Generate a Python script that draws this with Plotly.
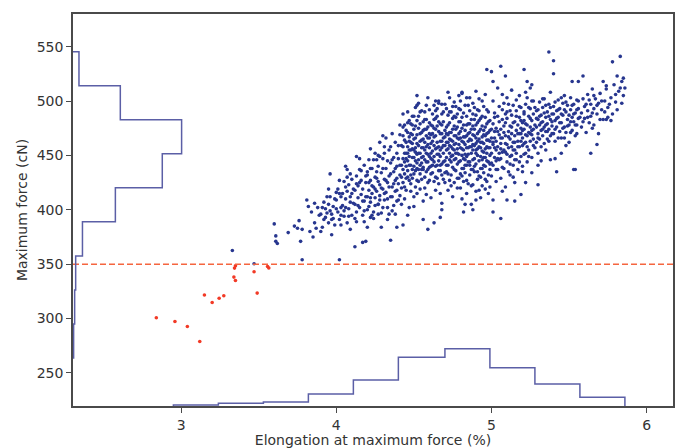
import plotly.graph_objects as go

# ---------------- data ----------------
x_range = [2.303, 6.17]
y_range = [219.6, 580.0]
threshold = 350

x_ticks = [3, 4, 5, 6]
y_ticks = [250, 300, 350, 400, 450, 500, 550]

# histogram of elongation (bottom)
x_edges = [2.95, 3.24, 3.53, 3.82, 4.11, 4.40, 4.70, 4.99, 5.28, 5.57, 5.86]
x_counts = [7, 18, 27, 82, 177, 331, 390, 260, 150, 59]

# histogram of maximum force (left)
y_edges = [263.7, 295.0, 326.3, 357.6, 388.9, 420.2, 451.5, 482.8, 514.1, 545.4]
y_counts = [3, 8, 13, 46, 206, 434, 528, 230, 29]

# points below the threshold (red)
red_x = [2.84, 2.96, 3.04, 3.12, 3.15, 3.20, 3.245, 3.275, 3.344, 3.35, 3.34, 3.35, 3.47, 3.49, 3.557, 3.565]
red_y = [300.7, 297.3, 292.7, 278.9, 321.6, 314.8, 318.6, 320.9, 346.4, 348.5, 338.1, 335.0, 343.0, 323.4, 347.9, 346.5]

# points above the threshold (blue)
blue_pts = [
    # sparse left / lower tail
    (3.33, 362.6), (3.47, 350.4), (3.60, 387), (3.61, 376), (3.61, 371), (3.62, 369), (3.69, 379),
    (3.73, 385), (3.75, 383), (3.76, 390), (3.78, 382), (3.77, 371), (3.78, 354), (3.81, 409),
    (3.82, 403), (3.83, 380), (3.85, 375), (3.86, 406), (3.90, 380), (3.92, 407), (3.94, 397),
    (3.96, 433), (3.96, 412), (3.97, 377), (3.97, 391), (4.00, 416), (4.02, 415), (4.03, 402),
    (4.05, 394), (4.06, 421), (4.09, 433), (4.09, 382), (4.11, 406), (4.12, 366), (4.13, 389),
    (4.15, 425), (4.20, 435), (4.20, 384), (4.19, 371), (4.22, 411), (4.22, 393), (4.25, 430),
    (4.27, 405), (4.26, 446), (4.35, 372), (4.39, 384), (4.43, 386), (4.46, 395), (4.50, 403),
    (4.56, 391), (4.59, 382), (4.63, 388), (4.67, 393), (4.68, 400), (4.68, 406), (4.02, 354),
    (4.17, 370),
    # lower-right boundary
    (5.64, 452), (5.54, 437), (5.30, 423), (5.22, 425), (5.19, 414), (5.15, 408), (5.10, 409),
    (5.06, 392), (5.01, 398), (5.01, 409), (4.88, 400), (4.82, 398), (4.83, 405), (4.90, 409),
    (5.07, 417), (5.14, 430), (5.20, 435), (5.26, 434), (5.30, 441), (5.41, 447), (5.38, 446),
    # upper boundary
    (5.37, 545), (5.40, 537), (5.40, 525), (5.21, 529), (5.06, 532), (5.00, 527), (5.09, 523),
    (5.01, 518), (5.23, 518), (5.26, 515), (5.59, 523), (5.52, 518), (5.56, 518), (5.78, 536),
    (5.83, 541), (5.81, 523), (5.84, 518), (5.72, 518), (5.74, 514), (5.85, 505), (5.80, 499),
    (5.81, 492), (5.74, 483), (5.65, 475), (4.81, 508), (4.97, 529), (4.72, 508), (4.66, 498),
    (4.70, 497), (4.52, 496), (4.41, 478), (4.30, 468), (4.13, 449), (4.07, 437), (5.75, 485),
    (5.68, 460), (5.53, 437), (5.42, 435),
    # 3.82 - 4.11
    (3.84, 398), (3.86, 388), (3.88, 402), (3.89, 395), (3.91, 384), (3.92, 391), (3.93, 401),
    (3.95, 388), (3.95, 405), (3.97, 396), (3.98, 403), (3.99, 386), (4.00, 409), (4.01, 398),
    (4.01, 419), (4.02, 391), (4.03, 412), (4.04, 404), (4.05, 426), (4.05, 399), (4.06, 410),
    (4.07, 388), (4.07, 417), (4.08, 401), (4.08, 423), (4.09, 407), (4.10, 395), (4.10, 415),
    (4.10, 428), (3.90, 396), (3.94, 412), (3.96, 399), (4.03, 395), (4.06, 440), (3.87, 383),
    (4.09, 412),
    # 4.11 - 4.41
    (4.12, 405), (4.12, 418), (4.13, 398), (4.13, 431), (4.14, 411), (4.14, 422), (4.15, 402),
    (4.15, 437), (4.16, 414), (4.16, 427), (4.17, 395), (4.17, 419), (4.18, 408), (4.18, 441),
    (4.19, 425), (4.19, 412), (4.20, 400), (4.20, 432), (4.21, 418), (4.21, 446), (4.22, 407),
    (4.22, 427), (4.23, 415), (4.23, 438), (4.24, 398), (4.24, 421), (4.25, 411), (4.25, 452),
    (4.26, 429), (4.26, 417), (4.27, 405), (4.27, 440), (4.28, 423), (4.28, 413), (4.29, 434),
    (4.29, 397), (4.30, 419), (4.30, 447), (4.31, 409), (4.31, 428), (4.32, 438), (4.32, 416),
    (4.33, 402), (4.33, 425), (4.34, 455), (4.34, 431), (4.35, 412), (4.35, 443), (4.36, 421),
    (4.36, 399), (4.37, 435), (4.37, 448), (4.38, 417), (4.38, 427), (4.39, 408), (4.39, 440),
    (4.40, 459), (4.40, 424), (4.41, 432), (4.41, 413), (4.18, 389), (4.24, 392), (4.29, 384),
    (4.33, 391), (4.38, 396), (4.15, 447), (4.22, 456), (4.28, 462), (4.32, 466), (4.36, 470),
    (4.39, 452), (4.27, 450), (4.31, 458),
    # 4.41 - 4.70
    (4.42, 441), (4.42, 459), (4.43, 425), (4.43, 468), (4.43, 447), (4.44, 433), (4.44, 452),
    (4.44, 478), (4.45, 418), (4.45, 462), (4.45, 440), (4.42, 405), (4.44, 410), (4.43, 488),
    (4.45, 452), (4.46, 436), (4.46, 458), (4.46, 471), (4.47, 427), (4.47, 449), (4.47, 463),
    (4.47, 482), (4.48, 441), (4.48, 455), (4.48, 417), (4.46, 445), (4.48, 470), (4.47, 402),
    (4.46, 490), (4.48, 432), (4.49, 448), (4.49, 461), (4.49, 429), (4.50, 474), (4.50, 440),
    (4.50, 455), (4.50, 486), (4.51, 421), (4.51, 466), (4.51, 445), (4.49, 478), (4.50, 412),
    (4.51, 457), (4.49, 437), (4.51, 494), (4.52, 451), (4.52, 438), (4.52, 469), (4.52, 482),
    (4.53, 426), (4.53, 459), (4.53, 446), (4.53, 475), (4.54, 433), (4.54, 463), (4.54, 452),
    (4.54, 490), (4.52, 415), (4.53, 498), (4.54, 441), (4.55, 457), (4.55, 443), (4.55, 471),
    (4.55, 428), (4.56, 465), (4.56, 449), (4.56, 481), (4.56, 437), (4.57, 455), (4.57, 420),
    (4.57, 474), (4.55, 491), (4.56, 408), (4.57, 462), (4.57, 446), (4.58, 452), (4.58, 468),
    (4.58, 435), (4.58, 483), (4.59, 444), (4.59, 460), (4.59, 476), (4.59, 425), (4.60, 457),
    (4.60, 439), (4.60, 492), (4.58, 414), (4.59, 503), (4.60, 466), (4.60, 449), (4.61, 461),
    (4.61, 447), (4.61, 478), (4.61, 433), (4.62, 454), (4.62, 470), (4.62, 488), (4.62, 441),
    (4.63, 459), (4.63, 426), (4.63, 475), (4.61, 411), (4.62, 463), (4.63, 449), (4.63, 496),
    (4.64, 456), (4.64, 468), (4.64, 440), (4.64, 484), (4.65, 451), (4.65, 462), (4.65, 429),
    (4.65, 477), (4.66, 445), (4.66, 472), (4.66, 458), (4.64, 418), (4.65, 493), (4.66, 436),
    (4.66, 500), (4.67, 463), (4.67, 449), (4.67, 479), (4.67, 436), (4.68, 457), (4.68, 470),
    (4.68, 442), (4.68, 488), (4.69, 452), (4.69, 466), (4.69, 428), (4.69, 481), (4.70, 459),
    (4.70, 445), (4.70, 473), (4.67, 415), (4.68, 497), (4.70, 434),
    # 4.70 - 4.99
    (4.71, 462), (4.71, 448), (4.71, 476), (4.71, 435), (4.72, 456), (4.72, 469), (4.72, 441),
    (4.72, 487), (4.73, 452), (4.73, 465), (4.73, 427), (4.73, 480), (4.71, 493), (4.72, 418),
    (4.73, 459), (4.73, 503), (4.74, 458), (4.74, 444), (4.74, 471), (4.74, 432), (4.75, 463),
    (4.75, 450), (4.75, 484), (4.75, 439), (4.76, 455), (4.76, 468), (4.76, 425), (4.76, 477),
    (4.74, 490), (4.75, 412), (4.76, 446), (4.76, 499), (4.77, 461), (4.77, 447), (4.77, 474),
    (4.77, 436), (4.78, 456), (4.78, 466), (4.78, 442), (4.78, 488), (4.79, 451), (4.79, 470),
    (4.79, 429), (4.79, 481), (4.77, 495), (4.78, 420), (4.79, 460), (4.79, 505), (4.80, 457),
    (4.80, 445), (4.80, 472), (4.80, 433), (4.81, 463), (4.81, 450), (4.81, 485), (4.81, 438),
    (4.82, 455), (4.82, 467), (4.82, 426), (4.82, 478), (4.80, 492), (4.81, 410), (4.82, 447),
    (4.81, 507), (4.83, 460), (4.83, 446), (4.83, 473), (4.83, 434), (4.84, 457), (4.84, 468),
    (4.84, 441), (4.84, 486), (4.85, 451), (4.85, 463), (4.85, 424), (4.85, 479), (4.83, 496),
    (4.84, 415), (4.85, 444), (4.84, 503), (4.86, 458), (4.86, 444), (4.86, 471), (4.86, 432),
    (4.87, 464), (4.87, 452), (4.87, 483), (4.87, 437), (4.88, 455), (4.88, 469), (4.88, 423),
    (4.88, 477), (4.86, 491), (4.87, 405), (4.88, 446), (4.88, 498), (4.89, 459), (4.89, 447),
    (4.89, 474), (4.89, 435), (4.90, 455), (4.90, 466), (4.90, 442), (4.90, 487), (4.91, 450),
    (4.91, 463), (4.91, 428), (4.91, 480), (4.89, 494), (4.90, 417), (4.91, 456), (4.90, 509),
    (4.92, 458), (4.92, 445), (4.92, 472), (4.92, 431), (4.93, 462), (4.93, 449), (4.93, 484),
    (4.93, 438), (4.94, 454), (4.94, 467), (4.94, 422), (4.94, 477), (4.92, 491), (4.93, 411),
    (4.94, 446), (4.94, 500), (4.95, 461), (4.95, 448), (4.95, 473), (4.95, 434), (4.96, 456),
    (4.96, 468), (4.96, 440), (4.96, 485), (4.97, 452), (4.97, 464), (4.97, 426), (4.97, 479),
    (4.95, 495), (4.96, 419), (4.97, 458), (4.96, 506), (4.98, 457), (4.98, 444), (4.98, 471),
    (4.98, 432), (4.99, 463), (4.99, 450), (4.99, 482), (4.99, 437), (4.98, 490), (4.99, 421),
    # 4.99 - 5.28
    (5.00, 466), (5.00, 452), (5.01, 479), (5.01, 441), (5.01, 460), (5.02, 472), (5.02, 448),
    (5.02, 489), (5.00, 431), (5.01, 500), (5.02, 457), (5.03, 463), (5.03, 475), (5.03, 445),
    (5.04, 458), (5.04, 486), (5.04, 437), (5.05, 469), (5.05, 452), (5.05, 495), (5.03, 426),
    (5.04, 512), (5.06, 461), (5.06, 474), (5.06, 447), (5.07, 466), (5.07, 483), (5.07, 439),
    (5.08, 455), (5.08, 471), (5.08, 498), (5.06, 429), (5.07, 506), (5.09, 468), (5.09, 453),
    (5.09, 480), (5.10, 460), (5.10, 444), (5.10, 490), (5.11, 472), (5.11, 457), (5.11, 435),
    (5.10, 503), (5.09, 421), (5.12, 465), (5.12, 477), (5.12, 449), (5.13, 470), (5.13, 458),
    (5.13, 487), (5.14, 462), (5.14, 441), (5.14, 496), (5.12, 432), (5.13, 510), (5.15, 468),
    (5.15, 481), (5.15, 455), (5.16, 473), (5.16, 446), (5.16, 491), (5.17, 463), (5.17, 478),
    (5.17, 437), (5.16, 501), (5.15, 425), (5.18, 470), (5.18, 458), (5.18, 485), (5.19, 475),
    (5.19, 449), (5.19, 494), (5.20, 466), (5.20, 480), (5.20, 440), (5.18, 505), (5.19, 463),
    (5.21, 474), (5.21, 461), (5.21, 488), (5.22, 469), (5.22, 452), (5.22, 497), (5.23, 478),
    (5.23, 458), (5.23, 444), (5.22, 508), (5.21, 482), (5.24, 471), (5.24, 486), (5.24, 455),
    (5.25, 476), (5.25, 463), (5.25, 493), (5.26, 469), (5.26, 448), (5.26, 482), (5.27, 474),
    (5.27, 459), (5.27, 500), (5.25, 512),
    # 5.28 - 5.57
    (5.29, 476), (5.29, 462), (5.29, 491), (5.30, 470), (5.30, 483), (5.30, 452), (5.31, 478),
    (5.31, 499), (5.31, 465), (5.32, 487), (5.32, 473), (5.32, 458), (5.33, 481), (5.33, 494),
    (5.33, 468), (5.34, 476), (5.34, 502), (5.34, 461), (5.35, 485), (5.35, 472), (5.36, 490),
    (5.36, 465), (5.36, 479), (5.37, 497), (5.37, 474), (5.38, 483), (5.38, 468), (5.38, 508),
    (5.39, 488), (5.39, 477), (5.40, 495), (5.40, 470), (5.41, 482), (5.41, 463), (5.42, 491),
    (5.42, 476), (5.43, 501), (5.43, 485), (5.44, 472), (5.44, 493), (5.45, 480), (5.45, 466),
    (5.46, 498), (5.46, 487), (5.47, 476), (5.47, 505), (5.48, 490), (5.48, 471), (5.49, 483),
    (5.49, 496), (5.50, 478), (5.50, 462), (5.51, 492), (5.51, 503), (5.52, 485), (5.52, 473),
    (5.53, 497), (5.53, 481), (5.54, 489), (5.54, 468), (5.55, 501), (5.55, 478), (5.56, 493),
    (5.56, 484), (5.35, 455), (5.45, 452), (5.32, 445), (5.48, 459),
    # 5.57 - 5.86
    (5.58, 489), (5.58, 476), (5.59, 502), (5.60, 484), (5.60, 495), (5.61, 471), (5.62, 491),
    (5.62, 506), (5.63, 480), (5.64, 497), (5.64, 486), (5.65, 511), (5.66, 493), (5.66, 478),
    (5.67, 502), (5.68, 488), (5.69, 498), (5.69, 470), (5.70, 507), (5.71, 492), (5.72, 483),
    (5.73, 500), (5.74, 511), (5.75, 494), (5.77, 503), (5.78, 488), (5.79, 515), (5.82, 509),
    (5.84, 498), (5.86, 512),
]

# additional points filling the dense core of the cloud
blue_pts_core = [
    (3.91, 402), (3.93, 393), (3.95, 419), (3.98, 392), (3.99, 410), (4.00, 401), (4.02, 427),
    (4.03, 386), (4.04, 415), (4.06, 402), (4.07, 430), (4.08, 394), (4.11, 419), (4.12, 392),
    (4.13, 424), (4.14, 404), (4.16, 436), (4.17, 408), (4.18, 399), (4.19, 431),
    (4.20, 412), (4.21, 425), (4.21, 403), (4.22, 438), (4.23, 395), (4.23, 422), (4.24, 446),
    (4.25, 419), (4.25, 404), (4.26, 435), (4.27, 426), (4.27, 396), (4.28, 449), (4.28, 409),
    (4.29, 420), (4.30, 438), (4.30, 402), (4.31, 452), (4.31, 415), (4.32, 427), (4.33, 445),
    (4.33, 410), (4.34, 421), (4.34, 396), (4.35, 458), (4.35, 433), (4.36, 412), (4.36, 446),
    (4.37, 424), (4.37, 404), (4.38, 462), (4.38, 438), (4.39, 418), (4.39, 429), (4.40, 447),
    (4.40, 409), (4.41, 469), (4.41, 441), (4.42, 420), (4.42, 430),
    (4.43, 458), (4.43, 437), (4.44, 464), (4.44, 421), (4.45, 447), (4.45, 473), (4.46, 430),
    (4.46, 452), (4.47, 467), (4.47, 441), (4.48, 479), (4.48, 424), (4.49, 456), (4.49, 469),
    (4.50, 433), (4.50, 448), (4.51, 477), (4.51, 436), (4.52, 461), (4.52, 427), (4.53, 486),
    (4.53, 452), (4.54, 470), (4.54, 419), (4.55, 448), (4.55, 464), (4.56, 439), (4.56, 473),
    (4.57, 430), (4.57, 490), (4.58, 458), (4.58, 444), (4.59, 466), (4.59, 437), (4.60, 480),
    (4.60, 427), (4.61, 452), (4.61, 469), (4.62, 434), (4.62, 477), (4.63, 444), (4.63, 467),
    (4.64, 430), (4.64, 491), (4.65, 457), (4.65, 441), (4.66, 481), (4.66, 424), (4.67, 470),
    (4.67, 455), (4.68, 432), (4.68, 463), (4.69, 444), (4.69, 490), (4.70, 467), (4.70, 425),
    (4.44, 444), (4.46, 480), (4.48, 462), (4.50, 465), (4.52, 443), (4.54, 479), (4.56, 457),
    (4.58, 474), (4.60, 470), (4.62, 446), (4.64, 474), (4.66, 451), (4.68, 478), (4.45, 429),
    (4.49, 486), (4.53, 437), (4.57, 483), (4.61, 440), (4.65, 486), (4.69, 459), (4.47, 455),
    (4.51, 453), (4.55, 437), (4.59, 451), (4.63, 483), (4.67, 441), (4.43, 476), (4.58, 496),
    (4.64, 500), (4.52, 505),
    (4.71, 455), (4.71, 470), (4.72, 433), (4.72, 478), (4.73, 446), (4.73, 490), (4.74, 464),
    (4.74, 422), (4.75, 456), (4.75, 474), (4.76, 437), (4.76, 486), (4.77, 452), (4.77, 468),
    (4.78, 429), (4.78, 476), (4.79, 444), (4.79, 493), (4.80, 466), (4.80, 420), (4.81, 456),
    (4.81, 475), (4.82, 438), (4.82, 489), (4.83, 451), (4.83, 467), (4.84, 427), (4.84, 478),
    (4.85, 457), (4.85, 496), (4.86, 441), (4.86, 465), (4.87, 474), (4.87, 422), (4.88, 460),
    (4.88, 488), (4.89, 440), (4.89, 468), (4.90, 452), (4.90, 478), (4.91, 435), (4.91, 492),
    (4.92, 465), (4.92, 418), (4.93, 457), (4.93, 474), (4.94, 438), (4.94, 486), (4.95, 453),
    (4.95, 469), (4.96, 428), (4.96, 476), (4.97, 445), (4.97, 492), (4.98, 464), (4.98, 415),
    (4.99, 457), (4.99, 473),
    (4.72, 462), (4.74, 449), (4.76, 460), (4.78, 452), (4.80, 481), (4.82, 462), (4.84, 449),
    (4.86, 479), (4.88, 437), (4.90, 461), (4.92, 482), (4.94, 462), (4.96, 448), (4.98, 481),
    (4.71, 441), (4.75, 495), (4.79, 465), (4.83, 441), (4.87, 458), (4.91, 470), (4.95, 441),
    (4.99, 442), (4.73, 471), (4.77, 485), (4.81, 431), (4.85, 470), (4.89, 483), (4.93, 430),
    (4.97, 470), (4.80, 500), (4.86, 503), (4.92, 502),
    (5.00, 474), (5.00, 443), (5.01, 462), (5.02, 485), (5.03, 455), (5.03, 437), (5.04, 472),
    (5.05, 481), (5.05, 446), (5.06, 466), (5.07, 492), (5.07, 453), (5.08, 438), (5.08, 477),
    (5.09, 461), (5.10, 484), (5.10, 451), (5.11, 467), (5.12, 491), (5.12, 442), (5.13, 476),
    (5.14, 455), (5.14, 480), (5.15, 462), (5.16, 486), (5.16, 452), (5.17, 470), (5.18, 495),
    (5.18, 444), (5.19, 482), (5.20, 459), (5.20, 473), (5.21, 490), (5.22, 462), (5.22, 479),
    (5.23, 468), (5.24, 494), (5.24, 449), (5.25, 484), (5.26, 473), (5.26, 500), (5.27, 465),
    (5.27, 488), (5.28, 478), (5.28, 457), (5.02, 466), (5.06, 456), (5.11, 497), (5.15, 446),
    (5.19, 470), (5.23, 503), (5.04, 447), (5.09, 488), (5.13, 450), (5.17, 458), (5.21, 451),
    (5.25, 470), (5.28, 494),
    (5.29, 484), (5.30, 492), (5.30, 466), (5.31, 486), (5.32, 480), (5.33, 474), (5.33, 502),
    (5.34, 489), (5.35, 478), (5.35, 496), (5.36, 472), (5.37, 486), (5.37, 463), (5.38, 494),
    (5.39, 481), (5.39, 470), (5.40, 488), (5.41, 499), (5.41, 474), (5.42, 484), (5.43, 466),
    (5.43, 492), (5.44, 480), (5.45, 503), (5.45, 488), (5.46, 475), (5.47, 492), (5.47, 466),
    (5.48, 499), (5.49, 477), (5.50, 487), (5.51, 471), (5.51, 481), (5.52, 496), (5.53, 488),
    (5.54, 478), (5.55, 492), (5.55, 470), (5.56, 500), (5.57, 485),
    (5.59, 481), (5.61, 497), (5.62, 485), (5.63, 501), (5.65, 489), (5.66, 505), (5.68, 496),
    (5.70, 483), (5.71, 500), (5.73, 490), (5.76, 497), (5.77, 482), (5.80, 506), (5.83, 512),
    (5.85, 521),
]

# ---------------- styling ----------------
BLUE = "#27368f"
HIST = "#5b5fa6"
RED = "#f23a26"
DASH = "#f5653f"
FONT = "DejaVu Sans"
hist_max_h = 52.7     # tallest bottom bar, in y units
hist_max_w = 0.70     # widest left bar, in x units

all_blue = blue_pts + blue_pts_core
blue_x = [p[0] for p in all_blue]
blue_y = [p[1] for p in all_blue]

# step outline for bottom histogram
base_y = y_range[0]
sx = max(x_counts)
hx, hy = [x_edges[0]], [base_y]
for i, c in enumerate(x_counts):
    h = base_y + c / sx * hist_max_h
    hx += [x_edges[i], x_edges[i + 1]]
    hy += [h, h]
hx.append(x_edges[-1]); hy.append(base_y)

# step outline for left histogram
base_x = x_range[0]
sy = max(y_counts)
vx, vy = [base_x], [y_edges[0]]
for i, c in enumerate(y_counts):
    w = base_x + c / sy * hist_max_w
    vx += [w, w]
    vy += [y_edges[i], y_edges[i + 1]]
vx.append(base_x); vy.append(y_edges[-1])

fig = go.Figure()
fig.add_trace(go.Scatter(x=blue_x, y=blue_y, mode="markers",
                         marker=dict(color=BLUE, size=3.6, line=dict(width=0)),
                         hoverinfo="skip"))
fig.add_trace(go.Scatter(x=red_x, y=red_y, mode="markers",
                         marker=dict(color=RED, size=3.6, line=dict(width=0)),
                         hoverinfo="skip"))
fig.add_trace(go.Scatter(x=x_range, y=[threshold, threshold], mode="lines",
                         line=dict(color=DASH, width=1.5, dash="6px,3px"),
                         hoverinfo="skip"))
fig.add_trace(go.Scatter(x=hx, y=hy, mode="lines",
                         line=dict(color=HIST, width=1.5), hoverinfo="skip"))
fig.add_trace(go.Scatter(x=vx, y=vy, mode="lines",
                         line=dict(color=HIST, width=1.5), hoverinfo="skip"))

axis_common = dict(showline=True, linecolor="#4a4a4a", linewidth=1.5, mirror=True,
                   ticks="outside", ticklen=5, tickwidth=1, tickcolor="#4a4a4a",
                   showgrid=False, zeroline=False, automargin=False,
                   tickfont=dict(family=FONT, size=14, color="#333333"))

fig.update_layout(
    width=678, height=448,
    margin=dict(l=73, r=5, t=14, b=42),
    paper_bgcolor="white", plot_bgcolor="white",
    showlegend=False,
    xaxis=dict(range=x_range, tickvals=x_ticks, **axis_common,
               title=dict(text="Elongation at maximum force (%)", standoff=2,
                          font=dict(family=FONT, size=14, color="#333333"))),
    yaxis=dict(range=y_range, tickvals=y_ticks, **axis_common,
               title=dict(text="Maximum force (cN)", standoff=6,
                          font=dict(family=FONT, size=14, color="#333333"))),
)

fig.write_html("out.html", config={"displayModeBar": False},
               post_script="document.body.style.margin='0';document.body.style.overflow='hidden';")
